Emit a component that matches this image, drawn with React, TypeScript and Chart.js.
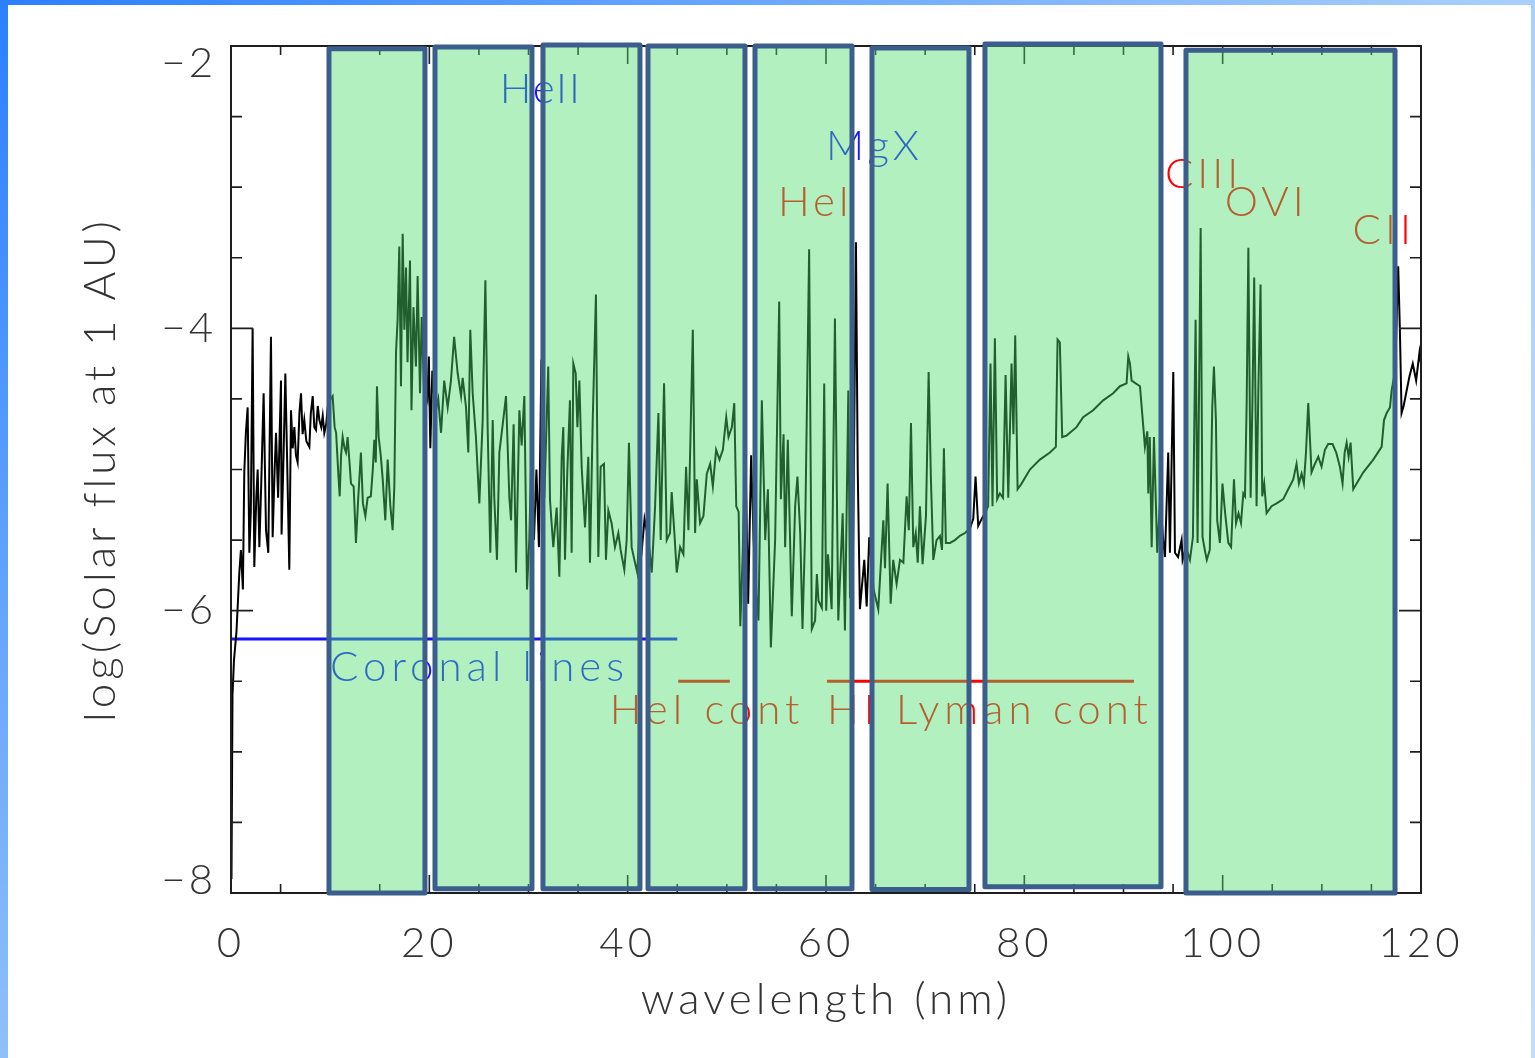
import { useEffect, useRef } from 'react';
import { Chart, registerables } from 'chart.js';

Chart.register(...registerables);

// Solar EUV spectrum: [wavelength (nm), log10 flux at 1 AU]
const spectrum: [number, number][] = [
  [0.05, -7.9], [0.15, -6.6], [0.3, -6.35], [0.55, -6.15], [0.84, -5.73], [1.0, -5.57], [1.2, -5.85],
  [1.34, -5.02], [1.5, -4.74], [1.68, -4.56], [1.85, -5.59], [2.0, -5.3], [2.18, -4.0], [2.35, -5.69],
  [2.55, -5.2], [2.69, -5.0], [2.86, -5.55], [3.05, -5.1], [3.29, -4.46], [3.53, -5.43], [3.76, -5.59],
  [4.03, -4.06], [4.2, -5.48], [4.4, -5.0], [4.54, -4.74], [4.75, -5.2], [5.04, -4.37], [5.1, -5.46],
  [5.3, -4.9], [5.48, -4.32], [5.65, -4.9], [5.88, -5.71], [6.05, -4.58], [6.22, -4.85], [6.39, -4.7],
  [6.55, -4.9], [6.72, -4.95], [6.9, -4.6], [7.06, -4.46], [7.22, -4.75], [7.39, -4.65], [7.6, -4.8],
  [7.9, -4.84], [8.05, -4.6], [8.24, -4.48], [8.4, -4.7], [8.57, -4.72], [8.75, -4.55], [8.91, -4.65],
  [9.1, -4.7], [9.25, -4.62], [9.41, -4.74], [9.6, -4.68], [9.75, -4.56],
  [10.05, -4.5], [10.25, -4.48], [10.45, -4.7], [10.6, -4.74], [10.82, -5.03], [10.96, -5.19], [11.1, -4.9],
  [11.26, -4.77], [11.45, -4.85], [11.6, -4.88], [11.76, -4.77], [11.95, -4.95], [12.1, -5.1], [12.37, -5.12],
  [12.6, -5.52], [12.84, -5.19], [13.1, -4.88], [13.3, -5.24], [13.55, -5.33], [13.78, -5.2], [14.1, -5.19],
  [14.3, -5.0], [14.45, -4.79], [14.6, -4.95], [14.72, -4.41], [14.89, -4.77], [15.1, -4.9], [15.3, -5.07],
  [15.56, -5.36], [15.8, -4.93], [16.07, -5.26], [16.3, -5.43], [16.47, -5.12], [16.64, -4.17], [16.8, -3.94],
  [16.97, -3.42], [17.14, -4.41], [17.31, -3.33], [17.48, -4.01], [17.65, -3.57], [17.8, -4.24], [18.05, -3.52],
  [18.2, -4.58], [18.4, -3.85], [18.65, -4.27], [18.82, -3.63], [19.06, -4.46], [19.23, -3.92], [19.45, -4.4],
  [19.8, -4.5], [19.95, -4.2], [20.1, -4.85], [20.3, -4.3],
  [20.6, -4.6], [20.9, -4.5], [21.18, -4.74], [21.5, -4.37], [21.85, -4.56], [22.18, -4.37], [22.5, -4.06],
  [22.86, -4.32], [23.2, -4.48], [23.36, -4.35], [23.7, -4.56], [23.93, -4.88], [24.13, -4.01], [24.37, -4.46],
  [24.7, -4.77], [25.04, -5.24], [25.38, -4.65], [25.65, -3.66], [25.88, -4.7], [26.15, -5.59], [26.39, -4.65],
  [26.55, -5.2], [26.82, -5.64], [27.06, -4.88], [27.4, -4.68], [27.73, -4.48], [28.07, -5.2], [28.24, -5.36],
  [28.5, -4.68], [28.74, -5.73], [29.08, -4.58], [29.31, -4.83], [29.58, -4.48], [29.85, -5.85], [30.08, -5.5],
  [30.3, -4.85], [30.55, -5.5], [30.8, -5.0], [31.05, -5.55], [31.3, -4.22], [31.6, -5.2],
  [31.99, -4.27], [32.17, -5.22], [32.5, -5.55], [32.84, -5.27], [33.11, -5.76], [33.35, -4.91], [33.51, -4.7],
  [33.68, -5.64], [33.92, -5.0], [34.18, -4.51], [34.35, -5.59], [34.52, -4.25], [34.76, -4.32], [34.93, -4.7],
  [35.13, -4.37], [35.36, -4.98], [35.7, -5.41], [36.03, -4.91], [36.2, -5.66], [36.47, -4.67], [36.8, -3.76],
  [37.04, -5.62], [37.28, -4.98], [37.61, -4.96], [37.81, -5.64], [38.05, -5.29], [38.38, -5.38], [38.72, -5.55],
  [39.06, -5.45], [39.29, -5.57], [39.66, -5.71], [39.9, -5.5], [40.13, -4.81], [40.4, -5.55], [40.74, -5.66],
  [40.97, -5.73], [41.2, -5.4], [41.45, -5.55], [41.7, -5.35],
  [42.1, -5.5], [42.43, -5.73], [42.76, -5.27], [43.1, -4.6], [43.33, -5.5], [43.67, -4.39], [43.94, -5.5],
  [44.27, -5.45], [44.44, -5.16], [44.71, -5.45], [44.95, -5.73], [45.29, -5.55], [45.62, -5.6], [45.89, -4.98],
  [46.13, -5.43], [46.57, -4.01], [46.8, -5.45], [46.97, -5.07], [47.3, -5.38], [47.64, -5.33], [47.98, -5.03],
  [48.32, -4.96], [48.59, -5.12], [48.92, -4.86], [49.26, -4.93], [49.6, -4.86], [49.94, -4.63], [50.17, -4.77],
  [50.51, -4.7], [50.75, -4.53], [50.95, -5.26], [51.19, -5.3], [51.36, -6.11], [51.6, -5.6], [51.85, -4.8],
  [52.15, -5.95], [52.45, -4.9], [52.7, -5.5],
  [53.0, -5.9], [53.19, -6.07], [53.53, -4.51], [53.87, -5.5], [54.14, -5.14], [54.44, -6.26], [54.87, -5.5],
  [55.28, -3.81], [55.45, -5.21], [55.72, -4.75], [55.88, -5.55], [56.15, -4.79], [56.55, -6.04], [56.89, -5.26],
  [57.12, -5.05], [57.4, -5.45], [57.63, -6.13], [57.9, -5.43], [58.3, -3.44], [58.57, -6.13], [58.9, -6.07],
  [59.08, -5.74], [59.24, -5.93], [59.58, -5.98], [59.82, -4.39], [60.02, -6.0], [60.2, -5.6], [60.57, -5.99],
  [60.9, -3.93], [61.24, -6.07], [61.68, -5.31], [61.91, -6.14], [62.25, -4.44], [62.42, -5.91],
  [62.7, -5.8], [63.02, -3.39], [63.2, -5.0], [63.42, -5.99], [63.86, -5.64], [64.1, -5.97], [64.36, -5.48],
  [64.8, -5.85], [65.27, -5.99], [65.78, -5.36], [65.95, -5.7], [66.21, -5.1], [66.52, -5.95], [66.78, -5.64],
  [67.12, -5.81], [67.46, -5.64], [67.8, -5.66], [68.13, -5.19], [68.35, -5.43], [68.57, -4.67], [68.8, -5.55],
  [69.05, -5.45], [69.25, -5.66], [69.47, -5.26], [69.74, -5.67], [70.08, -5.33], [70.35, -4.31], [70.58, -5.07],
  [70.82, -5.64], [71.15, -5.5], [71.49, -5.47], [71.7, -5.57], [71.89, -4.85], [72.09, -5.52], [72.5, -5.52],
  [73.0, -5.5], [73.5, -5.47], [74.01, -5.45],
  [74.5, -5.42], [74.85, -5.35], [75.08, -5.05], [75.35, -5.4], [75.7, -5.35],
  [76.1, -5.3], [76.35, -5.26], [76.59, -4.25], [76.79, -5.26], [77.03, -4.07], [77.26, -5.21], [77.53, -5.17],
  [77.85, -5.2], [78.11, -4.33], [78.38, -5.2], [78.71, -4.25], [78.9, -4.75], [79.08, -4.05], [79.32, -5.14],
  [79.72, -5.1], [80.56, -5.0], [81.57, -4.93], [82.58, -4.88], [83.18, -4.84], [83.35, -4.08], [83.58, -4.1],
  [83.82, -4.77], [84.26, -4.76], [85.26, -4.7], [85.93, -4.63], [86.94, -4.58], [87.95, -4.51], [88.96, -4.46],
  [89.64, -4.41], [90.31, -4.39], [90.48, -4.2], [90.65, -4.25], [90.82, -4.37], [91.66, -4.41], [92.0, -4.7],
  [92.16, -4.84], [92.4, -4.73], [92.5, -5.17], [92.65, -4.77], [92.84, -5.55], [93.07, -4.77], [93.27, -5.25],
  [93.4, -5.59],
  [93.7, -5.2], [94.0, -5.5], [94.18, -5.62], [94.51, -4.88], [94.68, -5.59], [95.02, -4.31], [95.19, -5.59],
  [95.5, -5.62], [95.86, -5.5], [95.96, -5.64],
  [96.3, -5.55], [96.7, -5.64], [97.0, -5.48], [97.27, -3.94], [97.47, -5.52], [97.78, -3.29], [97.97, -5.48],
  [98.2, -5.57], [98.4, -5.64], [98.7, -5.57], [98.95, -4.56], [99.12, -4.27], [99.32, -4.65], [99.45, -5.36],
  [99.72, -5.52], [99.98, -5.1], [100.25, -5.31], [100.57, -5.52], [100.85, -5.55], [101.14, -5.07], [101.35, -5.38],
  [101.6, -5.31], [101.85, -5.38], [102.08, -5.17], [102.25, -5.19], [102.42, -4.53], [102.59, -3.43], [102.82, -5.2],
  [103.0, -4.53], [103.18, -3.64], [103.42, -5.26], [103.6, -4.43], [103.82, -3.69], [103.99, -5.19], [104.19, -5.1],
  [104.43, -5.31], [104.93, -5.26], [105.44, -5.24], [106.11, -5.21], [106.61, -5.14], [107.12, -5.07], [107.45, -4.96],
  [107.69, -5.1], [107.96, -5.03], [108.19, -5.1], [108.4, -4.88], [108.63, -4.53], [108.96, -5.02], [109.3, -4.96],
  [109.64, -4.91], [109.97, -4.98], [110.31, -4.86], [110.64, -4.82], [111.08, -4.82], [111.45, -4.88], [111.82, -4.98],
  [112.09, -5.1], [112.3, -4.88], [112.5, -4.81], [112.7, -4.91], [112.9, -4.81], [113.17, -5.14], [114.18, -5.02],
  [115.19, -4.93], [116.03, -4.84], [116.27, -4.65], [116.54, -4.6], [116.87, -4.56], [117.04, -4.44],
  [117.4, -4.3], [117.7, -3.56], [117.87, -4.01], [118.04, -4.6], [118.25, -4.55], [118.5, -4.46], [118.84, -4.34],
  [119.17, -4.25], [119.51, -4.37], [119.85, -4.17], [120.0, -4.25],
];

// Emission ranges marked under the spectrum (nm) and their levels
const coronalSpan = [0, 45.0];
const coronalLevel = -6.2;
const heContSpan = [45.1, 50.3];
const lymanContSpan = [60.1, 91.05];
const contLevel = -6.5;

// Instrument pass bands (nm) and their vertical extent (log flux)
const bandStart = [9.88, 20.57, 31.46, 42.05, 52.84, 64.64, 76.03, 96.3];
const bandEnd = [19.56, 30.35, 41.24, 51.83, 62.62, 74.42, 93.78, 117.38];
const bandTop = [-2.02, -2.007, -1.993, -2.0, -2.0, -2.014, -1.986, -2.03];
const bandBottom = [-8.0, -7.97, -7.97, -7.97, -7.97, -7.975, -7.956, -8.0];

// Line identifications: text, left edge (nm), vertical centre (log flux)
const ionLabels = ['HeII', 'MgX', 'HeI', 'CIII', 'OVI', 'CII'];
const ionLabelNm = [27.1, 60.0, 55.16, 94.18, 100.2, 113.1];
const ionLabelLog = [-2.31, -2.715, -3.11, -2.91, -3.11, -3.31];

const rangeLabels = ['Coronal lines', 'HeI cont', 'HI Lyman cont'];
const rangeLabelNm = [9.98, 38.2, 60.1];
const rangeLabelLog = [-6.405, -6.71, -6.71];

// Axes
const xTickValues = [0, 20, 40, 60, 80, 100, 120];
const xTickLabels = ['0', '20', '40', '60', '80', '100', '120'];
const yTickValues = [-2, -4, -6, -8];
const yTickLabels = ['\u22122', '\u22124', '\u22126', '\u22128'];

const BLUE = '#1414ff';
const RED = '#ff0000';
const ionColors = [BLUE, BLUE, RED, RED, RED, RED];
const rangeColors = [BLUE, RED, RED];
const TEXT = '#333333';
const FONT_FAMILY = "Lato, 'DejaVu Sans', sans-serif";
const TICK_SIZE = 42;
const TITLE_SIZE = 44;
const BAND_FILL = 'rgba(79, 221, 109, 0.43)';
const BAND_EDGE = '#3b5e8c';

const idlFrame = {
  id: 'idlFrame',
  beforeDraw(chart: any) {
    chart.ctx.letterSpacing = '4px';
  },
  afterDatasetsDraw(chart: any) {
    const { ctx, chartArea: a, scales } = chart;
    const x = scales.x;
    const y = scales.y;
    ctx.save();

    // inward tick marks on all four sides
    ctx.strokeStyle = '#1e1e1e';
    ctx.lineWidth = 1.6;
    ctx.beginPath();
    for (let v = 0; v <= 120; v += 5) {
      const px = x.getPixelForValue(v);
      const len = v % 20 === 0 ? 18 : 9;
      ctx.moveTo(px, a.bottom);
      ctx.lineTo(px, a.bottom - len);
      ctx.moveTo(px, a.top);
      ctx.lineTo(px, a.top + len);
    }
    for (let v = -8; v <= -2; v += 0.5) {
      const py = y.getPixelForValue(v);
      const len = v % 2 === 0 ? 22 : 11;
      ctx.moveTo(a.left, py);
      ctx.lineTo(a.left + len, py);
      ctx.moveTo(a.right, py);
      ctx.lineTo(a.right - len, py);
    }
    ctx.stroke();
    ctx.lineWidth = 2;
    ctx.strokeRect(a.left, a.top, a.right - a.left, a.bottom - a.top);

    // y tick labels, kept inside the frame height
    ctx.letterSpacing = '3px';
    ctx.font = `300 ${TICK_SIZE}px ${FONT_FAMILY}`;
    ctx.fillStyle = TEXT;
    ctx.textAlign = 'right';
    ctx.textBaseline = 'middle';
    yTickValues.forEach((v, i) => {
      const py = Math.min(Math.max(y.getPixelForValue(v), a.top + 17), a.bottom - 13);
      ctx.fillText(yTickLabels[i], a.left - 15, py);
    });

    // annotations
    ctx.letterSpacing = '5px';
    ctx.textAlign = 'left';
    ctx.font = `300 42px ${FONT_FAMILY}`;
    ionLabels.forEach((t, i) => {
      ctx.letterSpacing = i === 0 ? '2px' : '4px';
      ctx.fillStyle = ionColors[i];
      ctx.fillText(t, x.getPixelForValue(ionLabelNm[i]), y.getPixelForValue(ionLabelLog[i]));
    });
    ctx.letterSpacing = '5px';
    rangeLabels.forEach((t, i) => {
      ctx.fillStyle = rangeColors[i];
      ctx.fillText(t, x.getPixelForValue(rangeLabelNm[i]), y.getPixelForValue(rangeLabelLog[i]));
    });

    // translucent pass bands on top
    ctx.lineWidth = 5;
    ctx.lineJoin = 'round';
    bandStart.forEach((s, i) => {
      const l = x.getPixelForValue(s);
      const r = x.getPixelForValue(bandEnd[i]);
      const t = y.getPixelForValue(bandTop[i]);
      const b = y.getPixelForValue(bandBottom[i]);
      ctx.fillStyle = BAND_FILL;
      ctx.fillRect(l, t, r - l, b - t);
      ctx.strokeStyle = BAND_EDGE;
      ctx.strokeRect(l, t, r - l, b - t);
    });
    ctx.restore();
  },
};

export default function App() {
  const canvasRef = useRef<HTMLCanvasElement>(null);

  useEffect(() => {
    const canvas = canvasRef.current;
    if (!canvas) return;
    const tickFont = { family: FONT_FAMILY, size: TICK_SIZE, weight: '300' as any };
    const titleFont = { family: FONT_FAMILY, size: TITLE_SIZE, weight: '300' as any };
    const chart = new Chart(canvas, {
      type: 'line',
      data: {
        datasets: [
          {
            data: spectrum.map(([w, f]) => ({ x: w, y: f })),
            borderColor: '#000000',
            borderWidth: 2,
            pointRadius: 0,
            tension: 0,
          },
          {
            data: coronalSpan.map((w) => ({ x: w, y: coronalLevel })),
            borderColor: BLUE,
            borderWidth: 3,
            pointRadius: 0,
          },
          {
            data: heContSpan.map((w) => ({ x: w, y: contLevel })),
            borderColor: RED,
            borderWidth: 3,
            pointRadius: 0,
          },
          {
            data: lymanContSpan.map((w) => ({ x: w, y: contLevel })),
            borderColor: RED,
            borderWidth: 3,
            pointRadius: 0,
          },
        ],
      },
      options: {
        responsive: false,
        devicePixelRatio: 1,
        animation: false,
        events: [],
        layout: { padding: { left: 8, top: 46, right: 114, bottom: 0 } },
        plugins: { legend: { display: false }, tooltip: { enabled: false } },
        scales: {
          x: {
            type: 'linear',
            min: 0,
            max: 120,
            grid: { display: false, drawTicks: false },
            border: { display: false },
            ticks: {
              stepSize: 20,
              padding: 25,
              font: tickFont,
              color: TEXT,
              maxRotation: 0,
              callback: (v: any) => {
                const i = xTickValues.indexOf(Number(v));
                return i >= 0 ? xTickLabels[i] : '';
              },
            },
            title: {
              display: true,
              text: 'wavelength (nm)',
              font: titleFont,
              color: TEXT,
              padding: { top: 0, bottom: 32 },
            },
            afterFit: (s: any) => {
              s.height = 165;
            },
          },
          y: {
            type: 'linear',
            min: -8,
            max: -2,
            grid: { display: false, drawTicks: false },
            border: { display: false },
            ticks: { display: false },
            title: {
              display: true,
              text: 'log(Solar flux at 1 AU)',
              font: titleFont,
              color: TEXT,
              padding: { top: 66, bottom: 0 },
            },
            afterFit: (s: any) => {
              s.width = 223;
            },
          },
        },
      },
      plugins: [idlFrame],
    } as any);
    return () => chart.destroy();
  }, []);

  return (
    <div style={{ position: 'fixed', left: 0, top: 0, width: 1535, height: 1058, overflow: 'hidden', background: '#ffffff' }}>
      <div style={{ position: 'absolute', left: 0, top: 0, width: 8, height: 1058, background: 'linear-gradient(to bottom, #2b80ff, #8fc0f8)' }} />
      <div style={{ position: 'absolute', left: 0, top: 0, width: 1535, height: 5, background: 'linear-gradient(to right, #2b80ff, #a9d0fa)' }} />
      <div style={{ position: 'absolute', right: 0, top: 0, width: 4, height: 1058, background: 'linear-gradient(to bottom, #a9d0fa, #c4def9)' }} />
      <canvas ref={canvasRef} width={1535} height={1058} style={{ position: 'absolute', left: 0, top: 0, width: 1535, height: 1058 }} />
    </div>
  );
}
